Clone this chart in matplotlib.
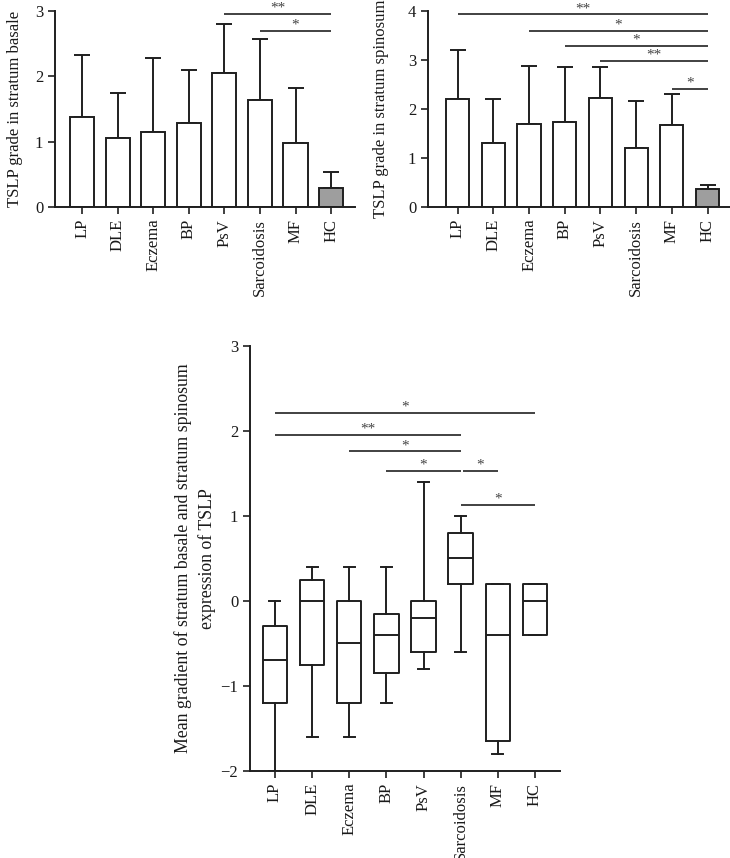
import matplotlib
matplotlib.use("Agg")
import matplotlib.pyplot as plt

plt.rcParams['font.family'] = ['Liberation Serif', 'DejaVu Serif']
plt.rcParams['axes.unicode_minus'] = True

categories = ['LP', 'DLE', 'Eczema', 'BP', 'PsV', 'Sarcoidosis', 'MF', 'HC']

# Panel A: stratum basale (mean, upper error)
basale_mean = [1.37, 1.05, 1.14, 1.28, 2.05, 1.64, 0.98, 0.29]
basale_err = [0.96, 0.69, 1.13, 0.82, 0.75, 0.93, 0.84, 0.25]
basale_sig = [(4, 7, 2.95, '**'), (5, 7, 2.69, '*')]

# Panel B: stratum spinosum
spinosum_mean = [2.21, 1.31, 1.69, 1.74, 2.22, 1.21, 1.67, 0.37]
spinosum_err = [0.98, 0.89, 1.18, 1.11, 0.63, 0.95, 0.64, 0.08]
spinosum_sig = [(0, 7, 3.93, '**'), (2, 7, 3.59, '*'), (3, 7, 3.29, '*'),
                (4, 7, 2.98, '**'), (6, 7, 2.41, '*')]

# Panel C: box plot statistics
box_whislo = [-2.00, -1.60, -1.60, -1.20, -0.80, -0.60, -1.80, -0.40]
box_q1 = [-1.20, -0.75, -1.20, -0.85, -0.60, 0.20, -1.65, -0.40]
box_med = [-0.70, 0.00, -0.50, -0.40, -0.20, 0.50, -0.40, 0.00]
box_q3 = [-0.30, 0.25, 0.00, -0.15, 0.00, 0.80, 0.20, 0.20]
box_whishi = [0.00, 0.40, 0.40, 0.40, 1.40, 1.00, 0.20, 0.20]
box_sig = [(0, 7, 2.21, '*'), (0, 5, 1.95, '**'), (2, 5, 1.76, '*'),
           (3, 5, 1.53, '*'), (5.05, 6, 1.53, '*'), (5, 7, 1.13, '*')]

LINE = '#1f1f1f'
GRAY = '#9e9e9e'
FS = 12

fig = plt.figure(figsize=(7.3, 8.58), dpi=100)


def style_axes(ax):
    for s in ['top', 'right']:
        ax.spines[s].set_visible(False)
    for s in ['left', 'bottom']:
        ax.spines[s].set_linewidth(1.4)
        ax.spines[s].set_color(LINE)
    ax.tick_params(axis='both', direction='out', length=5, width=1.2,
                   color=LINE, labelsize=FS, labelcolor='#1a1a1a')
    ax.set_xticks(range(len(categories)))
    ax.set_xticklabels(categories, rotation=90)


def add_sig(ax, sig):
    for x1, x2, y, txt in sig:
        ax.plot([x1, x2], [y, y], color='#333333', lw=1.3,
                solid_capstyle='butt', clip_on=False)
        ax.annotate(txt, xy=((x1 + x2) / 2, y), xytext=(0, 4),
                    textcoords='offset points', ha='center', va='center',
                    fontsize=11, color='#444444', annotation_clip=False)


def bar_panel(rect, means, errs, ylim, yticks, xlim, width, ylabel, sig,
              label_x):
    ax = fig.add_axes(rect)
    x = list(range(len(categories)))
    colors = ['white'] * (len(categories) - 1) + [GRAY]
    ax.bar(x, means, width=width, color=colors, edgecolor=LINE, linewidth=1.4,
           zorder=2)
    ax.errorbar(x, means, yerr=[[0] * len(errs), errs], fmt='none',
                ecolor=LINE, elinewidth=1.4, capsize=6, capthick=1.4,
                zorder=1)
    ax.set_ylim(*ylim)
    ax.set_xlim(*xlim)
    ax.set_yticks(yticks)
    style_axes(ax)
    ax.set_ylabel(ylabel, fontsize=FS, color='#1a1a1a')
    ax.yaxis.set_label_coords(label_x, 0.5)
    add_sig(ax, sig)
    return ax


bar_panel([0.0753, 0.7587, 0.4110, 0.2288], basale_mean, basale_err,
          (0, 3), [0, 1, 2, 3], (-0.76, 7.67), 0.68,
          'TSLP grade in stratum basale', basale_sig, -0.107)

bar_panel([0.5863, 0.7587, 0.4137, 0.2288], spinosum_mean, spinosum_err,
          (0, 4), [0, 1, 2, 3, 4], (-0.83, 7.63), 0.65,
          'TSLP grade in stratum spinosum', spinosum_sig, -0.129)

# Panel C
ax = fig.add_axes([0.3425, 0.1014, 0.4245, 0.4956])
stats = []
for i, c in enumerate(categories):
    stats.append(dict(label=c, whislo=box_whislo[i], q1=box_q1[i],
                      med=box_med[i], q3=box_q3[i], whishi=box_whishi[i],
                      fliers=[]))
ax.bxp(stats, positions=range(len(categories)), widths=0.66,
       capwidths=0.3, showfliers=False,
       boxprops=dict(color=LINE, linewidth=1.4),
       medianprops=dict(color=LINE, linewidth=1.4),
       whiskerprops=dict(color=LINE, linewidth=1.4),
       capprops=dict(color=LINE, linewidth=1.4))
ax.set_ylim(-2, 3)
ax.set_xlim(-0.67, 7.67)
ax.set_yticks([-2, -1, 0, 1, 2, 3])
style_axes(ax)
ax.set_ylabel('Mean gradient of stratum basale and stratum spinosum\nexpression of TSLP',
              fontsize=12.8, color='#1a1a1a', linespacing=1.45)
ax.yaxis.set_label_coords(-0.11, 0.5)
add_sig(ax, box_sig)

fig.savefig('out.png', dpi=100)
